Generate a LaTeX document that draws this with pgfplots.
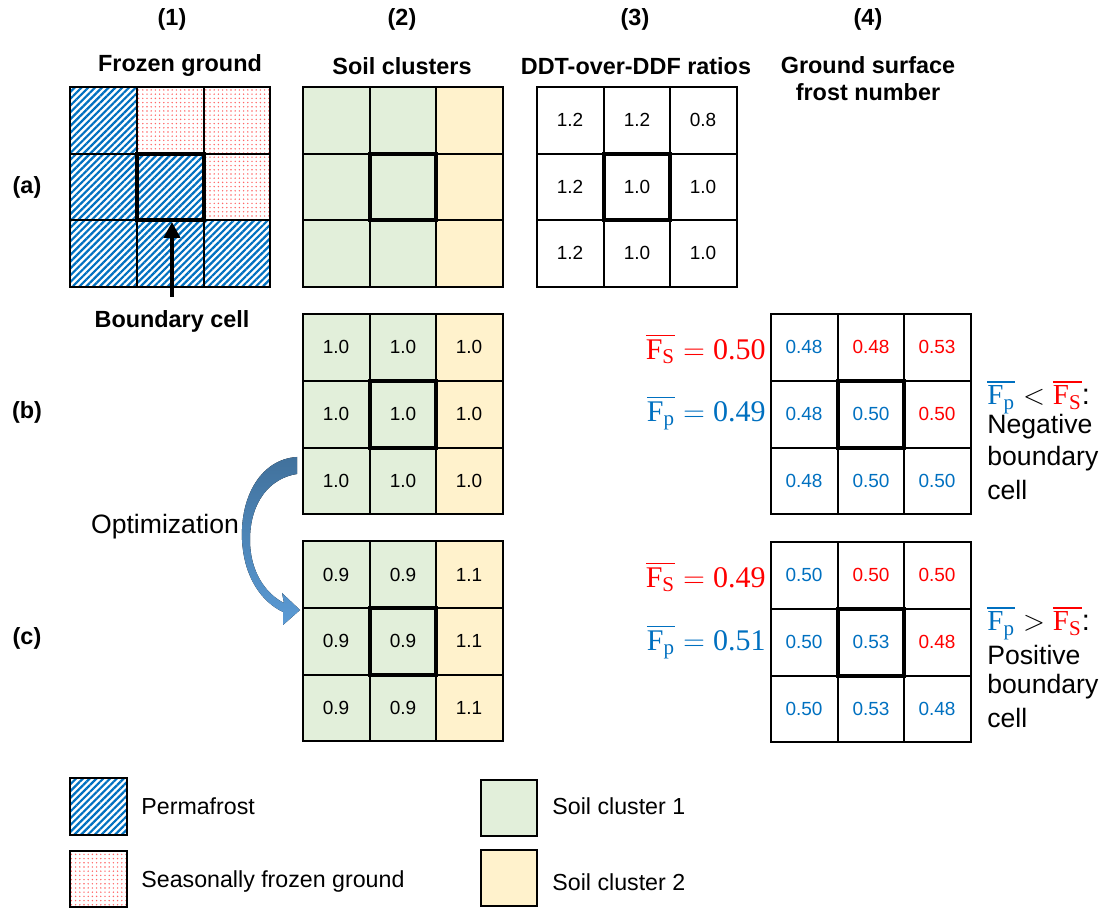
\documentclass[border=0pt]{standalone}
\usepackage{pgfplots}
\pgfplotsset{compat=1.18}
\usepackage{pgfplotstable}
\usepackage{amsmath}
\usepackage{fontspec}
\setmainfont{Liberation Sans}
\newfontfamily\lserif{Liberation Serif}
\usetikzlibrary{patterns.meta,arrows.meta}
\definecolor{pblue}{HTML}{0070C0}
\definecolor{pred}{HTML}{FF0000}
\definecolor{sgreen}{HTML}{E2EFDA}
\definecolor{syellow}{HTML}{FFF2CC}
\definecolor{arrA}{HTML}{41719C}
\definecolor{arrB}{HTML}{5B9BD5}

\pgfplotstableread{
x y lab
570 120 1.2
637 120 1.2
703 120 0.8
570 187 1.2
637 187 1.0
703 187 1.0
570 253 1.2
637 253 1.0
703 253 1.0
}\ddt
\pgfplotstableread{
x y lab
336 347 1.0
403 347 1.0
469 347 1.0
336 414 1.0
403 414 1.0
469 414 1.0
336 481 1.0
403 481 1.0
469 481 1.0
}\soilb
\pgfplotstableread{
x y lab
336 575 0.9
403 575 0.9
469 575 1.1
336 641 0.9
403 641 0.9
469 641 1.1
336 708 0.9
403 708 0.9
469 708 1.1
}\soilc
\pgfplotstableread{
x y lab
804 347 0.48
804 414 0.48
871 414 0.50
804 481 0.48
871 481 0.50
937 481 0.50
}\frostbblue
\pgfplotstableread{
x y lab
871 347 0.48
937 347 0.53
937 414 0.50
}\frostbred
\pgfplotstableread{
x y lab
804 575 0.50
804 642 0.50
871 642 0.53
804 709 0.50
871 709 0.53
937 709 0.48
}\frostcblue
\pgfplotstableread{
x y lab
871 575 0.50
937 575 0.50
937 642 0.48
}\frostcred

\newcommand{\gridlines}[8]{%
 \addplot[gridline] coordinates {(#1,#5) (#4,#5) (#4,#8) (#1,#8)} -- cycle;
 \addplot[gridline] coordinates {(#2,#5) (#2,#8)};
 \addplot[gridline] coordinates {(#3,#5) (#3,#8)};
 \addplot[gridline] coordinates {(#1,#6) (#4,#6)};
 \addplot[gridline] coordinates {(#1,#7) (#4,#7)};
 \addplot[thickline] coordinates {(#2,#6) (#3,#6) (#3,#7) (#2,#7)} -- cycle;
}
\newcommand{\hfont}{\fontsize{11.7}{14}\selectfont\bfseries}
\newcommand{\tfont}{\fontsize{11.6}{14}\selectfont}
\newcommand{\bigfont}{\fontsize{13.3}{16}\selectfont}
\newcommand{\rfont}{\fontsize{14.5}{17}\selectfont}
\newcommand{\mfont}{\fontsize{15}{18}\selectfont}
\newcommand{\sr}[1]{\text{\lserif #1}}
\newcommand{\sub}[1]{\text{\lserif\fontsize{10.5}{12}\selectfont #1}}
\newcommand{\FS}{\overline{\sr{F}_{\sub{S}}}}
\newcommand{\Fp}{\overline{\sr{F}_{\sub{p}}}}

\begin{document}
\begin{tikzpicture}
\begin{axis}[
  x=0.5pt, y=0.5pt, xmin=0, xmax=1105, ymin=0, ymax=909,
  y dir=reverse, hide axis, scale only axis, clip=false,
  gridline/.style={draw=black, line width=0.75pt},
  thickline/.style={draw=black, line width=2pt},
  permaf/.style={draw=none, pattern={Lines[angle=45,distance=2.4pt,line width=1.1pt]}, pattern color=pblue},
  seasf/.style={draw=none, pattern={Dots[distance=2.1pt,radius=0.4pt]}, pattern color=pred!60},
  numlab/.style={draw=none, mark=none, nodes near coords, point meta=explicit symbolic,
     nodes near coords align={anchor=center},
     every node near coord/.append style={font=\fontsize{9.5}{11}\selectfont, inner sep=0pt, anchor=center, text=#1}},
]
% invisible frame for bounding box
\addplot[draw=none] coordinates {(0,0) (1105,909)};

% ---------- (1) frozen ground ----------
\addplot[permaf] coordinates {(70,87) (137,87) (137,154) (204,154) (204,220) (270,220) (270,287) (70,287)} -- cycle;
\addplot[seasf] coordinates {(137,87) (270,87) (270,220) (204,220) (204,154) (137,154)} -- cycle;
\gridlines{70}{137}{204}{270}{87}{154}{220}{287}
\addplot[black, line width=2pt, -{Triangle[width=8pt,length=8pt]}] coordinates {(172,297) (172,222)};
\node[font=\hfont] at (axis cs:172,321) {Boundary cell};

% ---------- (2) soil clusters ----------
\addplot[draw=none, fill=sgreen] coordinates {(303,87) (436,87) (436,287) (303,287)} -- cycle;
\addplot[draw=none, fill=syellow] coordinates {(436,87) (503,87) (503,287) (436,287)} -- cycle;
\gridlines{303}{370}{436}{503}{87}{154}{220}{287}

\addplot[draw=none, fill=sgreen] coordinates {(303,314) (436,314) (436,514) (303,514)} -- cycle;
\addplot[draw=none, fill=syellow] coordinates {(436,314) (503,314) (503,514) (436,514)} -- cycle;
\gridlines{303}{370}{436}{503}{314}{381}{448}{514}
\addplot[numlab=black] table[meta=lab]{\soilb};

\addplot[draw=none, fill=sgreen] coordinates {(303,541) (436,541) (436,741) (303,741)} -- cycle;
\addplot[draw=none, fill=syellow] coordinates {(436,541) (503,541) (503,741) (436,741)} -- cycle;
\gridlines{303}{370}{436}{503}{541}{608}{675}{741}
\addplot[numlab=black] table[meta=lab]{\soilc};

% ---------- (3) DDT-over-DDF ----------
\gridlines{537}{604}{670}{737}{87}{154}{220}{287}
\addplot[numlab=black] table[meta=lab]{\ddt};

% ---------- (4) frost number ----------
\gridlines{771}{838}{904}{971}{314}{381}{448}{514}
\addplot[numlab=pblue] table[meta=lab]{\frostbblue};
\addplot[numlab=pred] table[meta=lab]{\frostbred};
\gridlines{771}{838}{904}{971}{542}{609}{676}{742}
\addplot[numlab=pblue] table[meta=lab]{\frostcblue};
\addplot[numlab=pred] table[meta=lab]{\frostcred};

% formulas
\node[anchor=east, font=\mfont, text=pred, inner sep=0pt] at (axis cs:766,349) {$\FS = \sr{0.50}$};
\node[anchor=east, font=\mfont, text=pblue, inner sep=0pt] at (axis cs:766,413) {$\Fp = \sr{0.49}$};
\node[anchor=east, font=\mfont, text=pred, inner sep=0pt] at (axis cs:766,577) {$\FS = \sr{0.49}$};
\node[anchor=east, font=\mfont, text=pblue, inner sep=0pt] at (axis cs:766,642) {$\Fp = \sr{0.51}$};

\node[anchor=west, font=\rfont, inner sep=0pt] at (axis cs:987,397) {$\textcolor{pblue}{\Fp} < \textcolor{pred}{\FS}$:};
\node[anchor=west, font=\bigfont, inner sep=0pt] at (axis cs:987,427) {Negative};
\node[anchor=west, font=\bigfont, inner sep=0pt] at (axis cs:987,459) {boundary};
\node[anchor=west, font=\bigfont, inner sep=0pt] at (axis cs:987,490) {cell};

\node[anchor=west, font=\rfont, inner sep=0pt] at (axis cs:987,623) {$\textcolor{pblue}{\Fp} > \textcolor{pred}{\FS}$:};
\node[anchor=west, font=\bigfont, inner sep=0pt] at (axis cs:987,655) {Positive};
\node[anchor=west, font=\bigfont, inner sep=0pt] at (axis cs:987,687) {boundary};
\node[anchor=west, font=\bigfont, inner sep=0pt] at (axis cs:987,718) {cell};

% curved arrow
\fill[top color=arrA, bottom color=arrB]
  (axis cs:297,457) .. controls (axis cs:262,459) and (axis cs:240,495) .. (axis cs:242,540)
  .. controls (axis cs:244,578) and (axis cs:262,602) .. (axis cs:283,612)
  -- (axis cs:283,625) -- (axis cs:300,610) -- (axis cs:282,593) -- (axis cs:284,603)
  .. controls (axis cs:266,594) and (axis cs:250,572) .. (axis cs:250,540)
  .. controls (axis cs:250,502) and (axis cs:270,478) .. (axis cs:297,474) -- cycle;
\node[font=\bigfont] at (axis cs:165,527) {Optimization};

% headers
\node[font=\hfont] at (axis cs:172,19) {(1)};
\node[font=\hfont] at (axis cs:402,19) {(2)};
\node[font=\hfont] at (axis cs:635,19) {(3)};
\node[font=\hfont] at (axis cs:868,19) {(4)};
\node[font=\hfont] at (axis cs:180,66) {Frozen ground};
\node[font=\hfont] at (axis cs:402,66) {Soil clusters};
\node[font=\hfont] at (axis cs:636,66) {DDT-over-DDF ratios};
\node[font=\hfont] at (axis cs:868,65) {Ground surface};
\node[font=\hfont] at (axis cs:868,92) {frost number};
\node[font=\hfont] at (axis cs:27,187) {(a)};
\node[font=\hfont] at (axis cs:27,412) {(b)};
\node[font=\hfont] at (axis cs:27,638) {(c)};

% legend
\addplot[permaf] coordinates {(70,778) (127,778) (127,835) (70,835)} -- cycle;
\addplot[gridline, line width=1pt] coordinates {(70,778) (127,778) (127,835) (70,835)} -- cycle;
\addplot[seasf] coordinates {(70,851) (127,851) (127,907) (70,907)} -- cycle;
\addplot[gridline, line width=1pt] coordinates {(70,851) (127,851) (127,907) (70,907)} -- cycle;
\addplot[gridline, line width=1pt, fill=sgreen] coordinates {(481,780) (537,780) (537,836) (481,836)} -- cycle;
\addplot[gridline, line width=1pt, fill=syellow] coordinates {(481,850) (537,850) (537,906) (481,906)} -- cycle;
\node[anchor=west, font=\tfont, inner sep=0pt] at (axis cs:141,806) {Permafrost};
\node[anchor=west, font=\tfont, inner sep=0pt] at (axis cs:141,882) {Seasonally frozen ground};
\node[anchor=west, font=\tfont, inner sep=0pt] at (axis cs:552,806) {Soil cluster 1};
\node[anchor=west, font=\tfont, inner sep=0pt] at (axis cs:552,882) {Soil cluster 2};
\end{axis}
\end{tikzpicture}
\end{document}
